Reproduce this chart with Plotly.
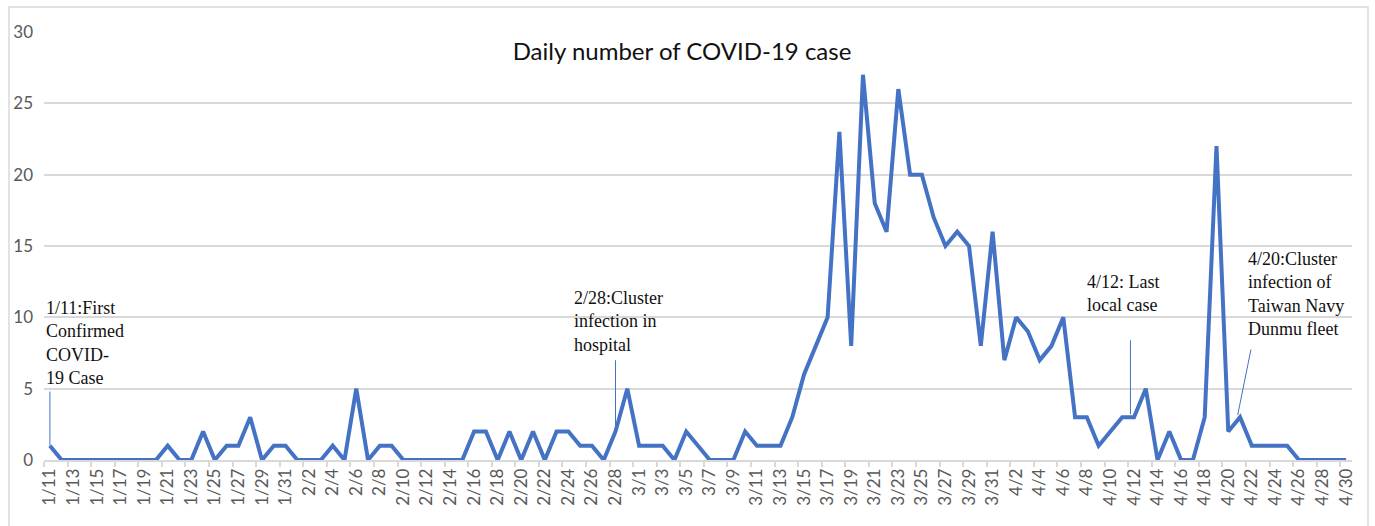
import plotly.graph_objects as go

dates = [
    "1/11", "1/12", "1/13", "1/14", "1/15", "1/16", "1/17", "1/18", "1/19", "1/20",
    "1/21", "1/22", "1/23", "1/24", "1/25", "1/26", "1/27", "1/28", "1/29", "1/30", "1/31",
    "2/1", "2/2", "2/3", "2/4", "2/5", "2/6", "2/7", "2/8", "2/9", "2/10",
    "2/11", "2/12", "2/13", "2/14", "2/15", "2/16", "2/17", "2/18", "2/19", "2/20",
    "2/21", "2/22", "2/23", "2/24", "2/25", "2/26", "2/27", "2/28", "2/29",
    "3/1", "3/2", "3/3", "3/4", "3/5", "3/6", "3/7", "3/8", "3/9", "3/10",
    "3/11", "3/12", "3/13", "3/14", "3/15", "3/16", "3/17", "3/18", "3/19", "3/20",
    "3/21", "3/22", "3/23", "3/24", "3/25", "3/26", "3/27", "3/28", "3/29", "3/30", "3/31",
    "4/1", "4/2", "4/3", "4/4", "4/5", "4/6", "4/7", "4/8", "4/9", "4/10",
    "4/11", "4/12", "4/13", "4/14", "4/15", "4/16", "4/17", "4/18", "4/19", "4/20",
    "4/21", "4/22", "4/23", "4/24", "4/25", "4/26", "4/27", "4/28", "4/29", "4/30",
]

cases_jan = [1, 0, 0, 0, 0, 0, 0, 0, 0, 0, 1, 0, 0, 2, 0, 1, 1, 3, 0, 1, 1]
cases_feb = [0, 0, 0, 1, 0, 5, 0, 1, 1, 0, 0, 0, 0, 0, 0, 2, 2, 0, 2, 0,
             2, 0, 2, 2, 1, 1, 0, 2, 5]
cases_mar = [1, 1, 1, 0, 2, 1, 0, 0, 0, 2, 1, 1, 1, 3, 6, 8, 10, 23, 8, 27,
             18, 16, 26, 20, 20, 17, 15, 16, 15, 8, 16]
cases_apr = [7, 10, 9, 7, 8, 10, 3, 3, 1, 2, 3, 3, 5, 0, 2, 0, 0, 3, 22, 2,
             3, 1, 1, 1, 1, 0, 0, 0, 0, 0]
cases = cases_jan + cases_feb + cases_mar + cases_apr

title_text = "Daily number of COVID-19 case"
y_ticks = [0, 5, 10, 15, 20, 25, 30]

# annotations: (text, left position (category index), top value)
notes = [
    ("1/11:First<br>Confirmed<br>COVID-<br>19 Case", -0.5, 11.5),
    ("2/28:Cluster<br>infection in<br>hospital", 44.3, 12.2),
    ("4/12: Last<br>local case", 87.8, 13.3),
    ("4/20:Cluster<br>infection of<br>Taiwan Navy<br>Dunmu fleet", 101.5, 14.95),
]
# pointers: (head x, head y, tail x, tail y)
pointers = [
    (0, 1.0, 0, 4.9),
    (48, 2.0, 48, 7.1),
    (91.7, 3.2, 91.7, 8.5),
    (100.8, 3.15, 101.95, 7.85),
]

BLUE = "#4472C4"
GRID = "#D9D9D9"
TICKC = "#595959"
SANS = "Lato, Open Sans, sans-serif"
SERIF = "Liberation Serif, Times New Roman, serif"

fig = go.Figure()
fig.add_trace(go.Scatter(
    x=dates, y=cases, mode="lines",
    line=dict(color=BLUE, width=4),
    hoverinfo="x+y", showlegend=False,
))

annots = []
for txt, xl, yt in notes:
    annots.append(dict(
        text=txt, x=xl, y=yt, xref="x", yref="y",
        xanchor="left", yanchor="top", align="left", showarrow=False,
        font=dict(family=SERIF, size=18, color="#111111"),
    ))
for hx, hy, tx, ty in pointers:
    annots.append(dict(
        text="", x=hx, y=hy, xref="x", yref="y",
        ax=tx, ay=ty, axref="x", ayref="y",
        showarrow=True, arrowhead=0, arrowwidth=1, arrowcolor=BLUE,
    ))

W, H = 1375, 526
L, R, T, B = 44, 1375 - 1352, 32, 526 - 460
pw, ph = W - L - R, H - T - B

fig.update_layout(
    width=W, height=H,
    margin=dict(l=L, r=R, t=T, b=B),
    paper_bgcolor="white", plot_bgcolor="white",
    title=dict(
        text=title_text, x=682 / W, xanchor="center", xref="container",
        y=1 - 52 / H, yanchor="middle", yref="container",
        font=dict(family=SANS, size=24, color="#111111"),
    ),
    xaxis=dict(
        type="category", categoryorder="array", categoryarray=dates,
        range=[-0.5, len(dates) - 0.5],
        tickmode="linear", tick0=0, dtick=2, tickson="boundaries",
        ticks="outside", ticklen=5, tickcolor=GRID, tickwidth=1.5,
        tickangle=-90, showgrid=False, zeroline=False,
        showline=True, linecolor=GRID, linewidth=1.5,
        tickfont=dict(family=SANS, size=17, color=TICKC),
    ),
    yaxis=dict(
        range=[0, 30], tickvals=y_ticks, showgrid=True, gridcolor=GRID, gridwidth=1.5,
        zeroline=False, showline=False, ticks="", ticklabelstandoff=10,
        tickfont=dict(family=SANS, size=17, color=TICKC),
    ),
    annotations=annots,
    shapes=[dict(
        type="rect", xref="paper", yref="paper",
        x0=(9 - L) / pw, x1=(1368 - L) / pw,
        y0=(460 - 540) / ph, y1=(460 - 7) / ph,
        line=dict(color=GRID, width=1.5), fillcolor="rgba(0,0,0,0)", layer="above",
    )],
)

fig.write_html(
    "out.html",
    config={"displayModeBar": False},
    post_script="document.body.style.margin='0px';document.body.style.overflow='hidden';",
)
